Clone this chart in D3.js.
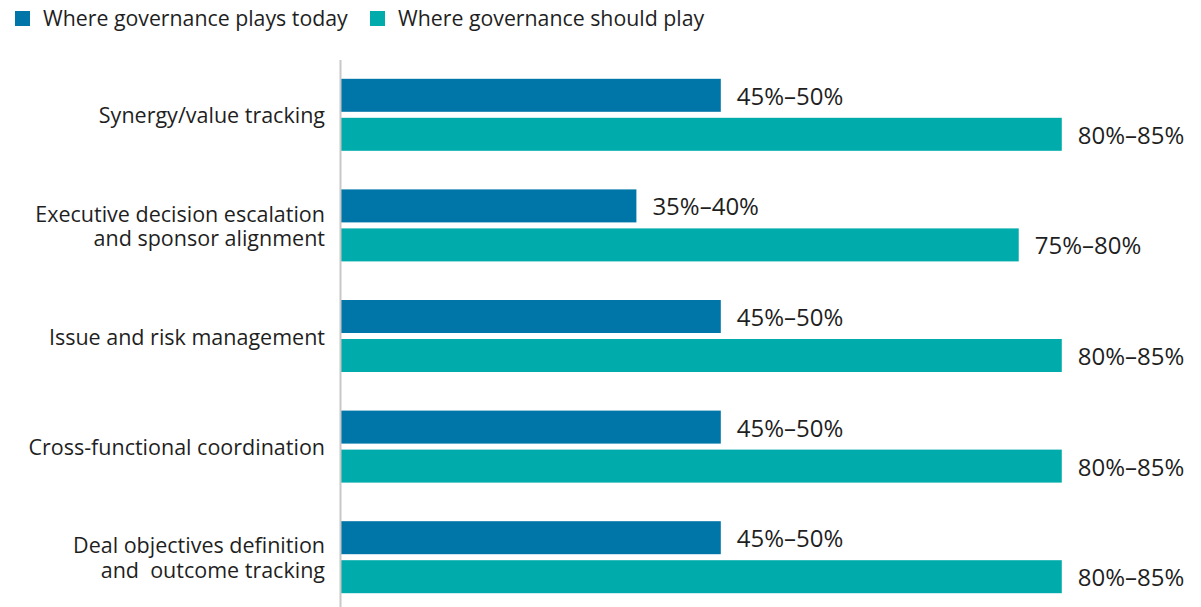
<!DOCTYPE html>
<html>
<head>
<meta charset="utf-8">
<script src="https://cdn.jsdelivr.net/npm/d3@7"></script>
<style>
  html, body { margin: 0; padding: 0; background: #fff; }
  svg { display: block; font-family: "Open Sans", sans-serif; }
  text { white-space: pre; }
</style>
</head>
<body>
<svg id="chart" width="1201" height="607"></svg>
<script>
const categories = [
  ["Synergy/value tracking"],
  ["Executive decision escalation", "and sponsor alignment"],
  ["Issue and risk management"],
  ["Cross-functional coordination"],
  ["Deal objectives definition", "and  outcome tracking"]
];
const seriesNames = ["Where governance plays today", "Where governance should play"];
const todayValues = [45, 35, 45, 45, 45];
const shouldValues = [85.4, 80.3, 85.4, 85.4, 85.4];
const todayLabels = ["45%–50%", "35%–40%", "45%–50%", "45%–50%", "45%–50%"];
const shouldLabels = ["80%–85%", "75%–80%", "80%–85%", "80%–85%", "80%–85%"];
const colors = ["#0076A8", "#00ABAB"];

const svg = d3.select("#chart");
const textColor = "#1f1f1f";

const x = d3.scaleLinear().domain([0, 100]).range([341, 341 + 844]);
const y = d3.scaleBand().domain(d3.range(categories.length)).range([59.5, 612.5]).paddingInner(0).paddingOuter(0);
const barH = 33, gap = 6;

// Legend
const legend = svg.append("g");
const legendX = [15, 370];
seriesNames.forEach((name, i) => {
  legend.append("rect").attr("x", legendX[i]).attr("y", 11).attr("width", 15).attr("height", 15).attr("fill", colors[i]);
  legend.append("text").attr("x", legendX[i] + 28).attr("y", 25.5)
    .attr("font-size", 21.3).attr("fill", textColor).text(name);
});

// Bars
const rows = categories.map((c, i) => ({ i, c, t: todayValues[i], s: shouldValues[i], tl: todayLabels[i], sl: shouldLabels[i] }));
const g = svg.append("g");
rows.forEach(r => {
  const cy = y(r.i) + y.bandwidth() / 2;
  const y1 = cy - gap / 2 - barH;
  const y2 = cy + gap / 2;
  g.append("rect").attr("x", x(0)).attr("y", y1).attr("width", x(r.t) - x(0)).attr("height", barH).attr("fill", colors[0]);
  g.append("rect").attr("x", x(0)).attr("y", y2).attr("width", x(r.s) - x(0)).attr("height", barH).attr("fill", colors[1]);
  g.append("text").attr("x", x(r.t) + 16).attr("y", y1 + barH / 2 + 1).attr("dy", "0.35em")
    .attr("font-size", 24).attr("fill", textColor).text(r.tl);
  g.append("text").attr("x", x(r.s) + 16).attr("y", y2 + barH / 2 + 1).attr("dy", "0.35em")
    .attr("font-size", 24).attr("fill", textColor).text(r.sl);
  // category label
  const lines = r.c;
  const lh = 24.5;
  const t = g.append("text").attr("text-anchor", "end").attr("font-size", 21.5).attr("fill", textColor);
  lines.forEach((ln, k) => {
    t.append("tspan").attr("x", 325)
      .attr("y", cy + 1 + (k - (lines.length - 1) / 2) * lh)
      .attr("dy", "0.35em").text(ln);
  });
});

// Axis line
svg.append("line").attr("x1", 340.5).attr("x2", 340.5).attr("y1", 60).attr("y2", 607)
  .attr("stroke", "#c8c8c8").attr("stroke-width", 2);
</script>
</body>
</html>
